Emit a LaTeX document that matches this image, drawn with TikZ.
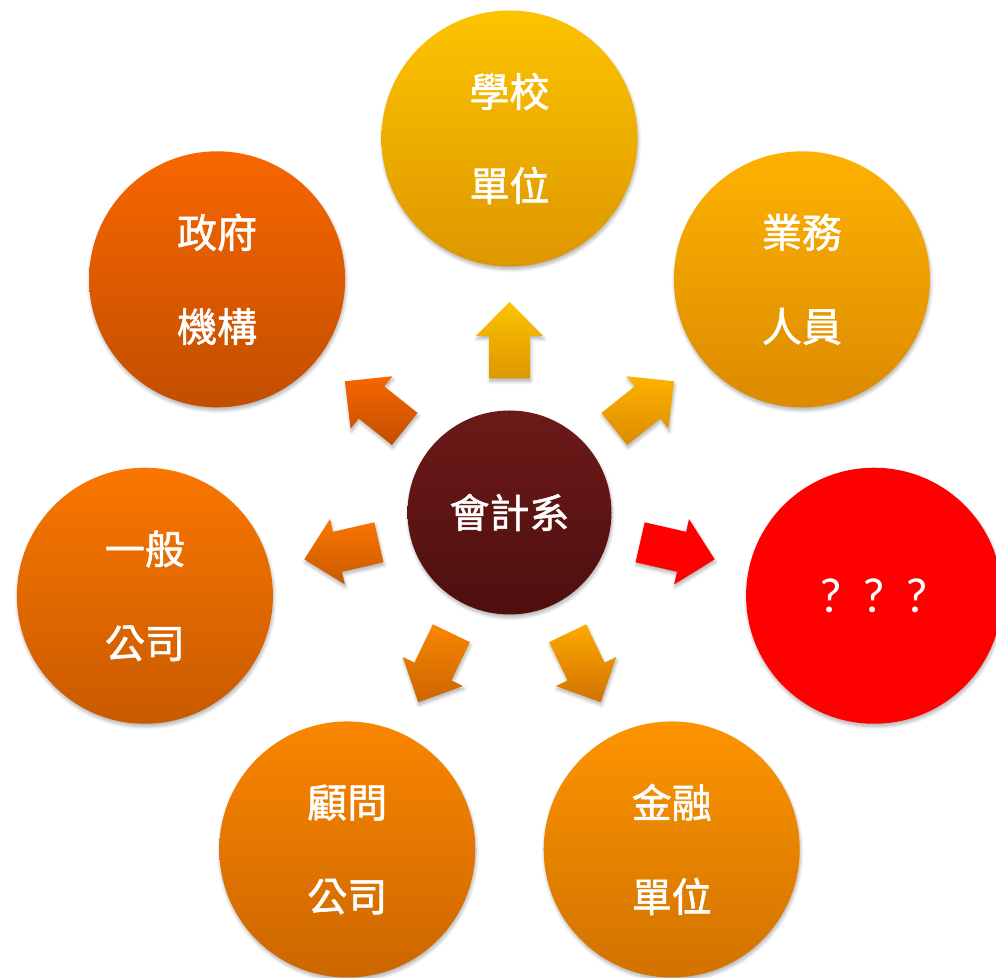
\documentclass[tikz,border=0pt]{standalone}
\usepackage{fontspec}
\newfontfamily\cjk[FakeBold=1.4]{Noto Sans CJK TC}
\newfontfamily\qfont{Carlito}
\usetikzlibrary{calc,shadows.blur}
\definecolor{schoolT}{HTML}{FCC400}\definecolor{schoolB}{HTML}{DE9600}
\definecolor{salesT}{HTML}{FDB200}\definecolor{salesB}{HTML}{DC8A00}
\definecolor{govT}{HTML}{F86600}\definecolor{govB}{HTML}{C24E00}
\definecolor{compT}{HTML}{FA7600}\definecolor{compB}{HTML}{C85A00}
\definecolor{consT}{HTML}{FA8600}\definecolor{consB}{HTML}{CC6600}
\definecolor{finT}{HTML}{FD9400}\definecolor{finB}{HTML}{D27200}
\definecolor{hubT}{HTML}{6C1A18}\definecolor{hubB}{HTML}{4E0F0F}
\definecolor{qred}{HTML}{FF0000}
\tikzset{
  softshadow/.style={blur shadow={shadow xshift=0.6pt, shadow yshift=-2.2pt, shadow blur radius=2.5pt, shadow blur steps=6, shadow opacity=30}},
  bubble/.style={circle, minimum size=192pt, inner sep=0pt, align=center, text=white,
    font=\cjk\fontsize{30pt}{70.5pt}\selectfont, softshadow},
  hub/.style={circle, minimum size=153pt, inner sep=0pt, align=center, text=white,
    font=\cjk\fontsize{30pt}{36pt}\selectfont, softshadow},
  blockarr/.style={softshadow}
}
\newcommand\blockarrow[2]{%
  \path[blockarr,#2]
    ($(c)+(#1:134)+(#1+90:20.5)$) -- ($(c)+(#1:176.5)+(#1+90:20.5)$)
    -- ($(c)+(#1:176.5)+(#1+90:33.5)$) -- ($(c)+(#1:210.5)$)
    -- ($(c)+(#1:176.5)+(#1-90:33.5)$) -- ($(c)+(#1:176.5)+(#1-90:20.5)$)
    -- ($(c)+(#1:134)+(#1-90:20.5)$) -- cycle;}
\begin{document}
\begin{tikzpicture}[x=0.75pt,y=0.75pt]
\useasboundingbox (0,0) rectangle (996,978);
\clip (0,0) rectangle (996,978);
\coordinate (c) at (509.5,465.5);
% outer circles
\node[bubble, top color=schoolT, bottom color=schoolB] (school) at ($(c)+(90:374)$) {學校\\單位};
\node[bubble, top color=salesT, bottom color=salesB] (sales) at ($(c)+(38.57:374)$) {業務\\人員};
\node[bubble, fill=qred, font=\qfont\fontsize{37pt}{40pt}\selectfont] (unknown) at ($(c)+(-12.86:374)$) {?\hspace{15pt}?\hspace{15pt}?};
\node[bubble, top color=finT, bottom color=finB] (finance) at ($(c)+(-64.29:374)$) {金融\\單位};
\node[bubble, top color=consT, bottom color=consB] (consult) at ($(c)+(-115.71:374)$) {顧問\\公司};
\node[bubble, top color=compT, bottom color=compB] (company) at ($(c)+(-167.14:374)$) {一般\\公司};
\node[bubble, top color=govT, bottom color=govB] (gov) at ($(c)+(141.43:374)$) {政府\\機構};
% center
\node[hub, top color=hubT, bottom color=hubB] (acct) at (c) {會計系};
% block arrows
\blockarrow{90}{top color=schoolT, bottom color=schoolB}
\blockarrow{38.57}{top color=salesT, bottom color=salesB!90!schoolB}
\blockarrow{-12.86}{fill=qred}
\blockarrow{-64.29}{top color=finT!80!yellow, bottom color=finB}
\blockarrow{-115.71}{top color=consT, bottom color=consB}
\blockarrow{-167.14}{top color=compT, bottom color=compB}
\blockarrow{141.43}{top color=govT, bottom color=govB}
\end{tikzpicture}
\end{document}
